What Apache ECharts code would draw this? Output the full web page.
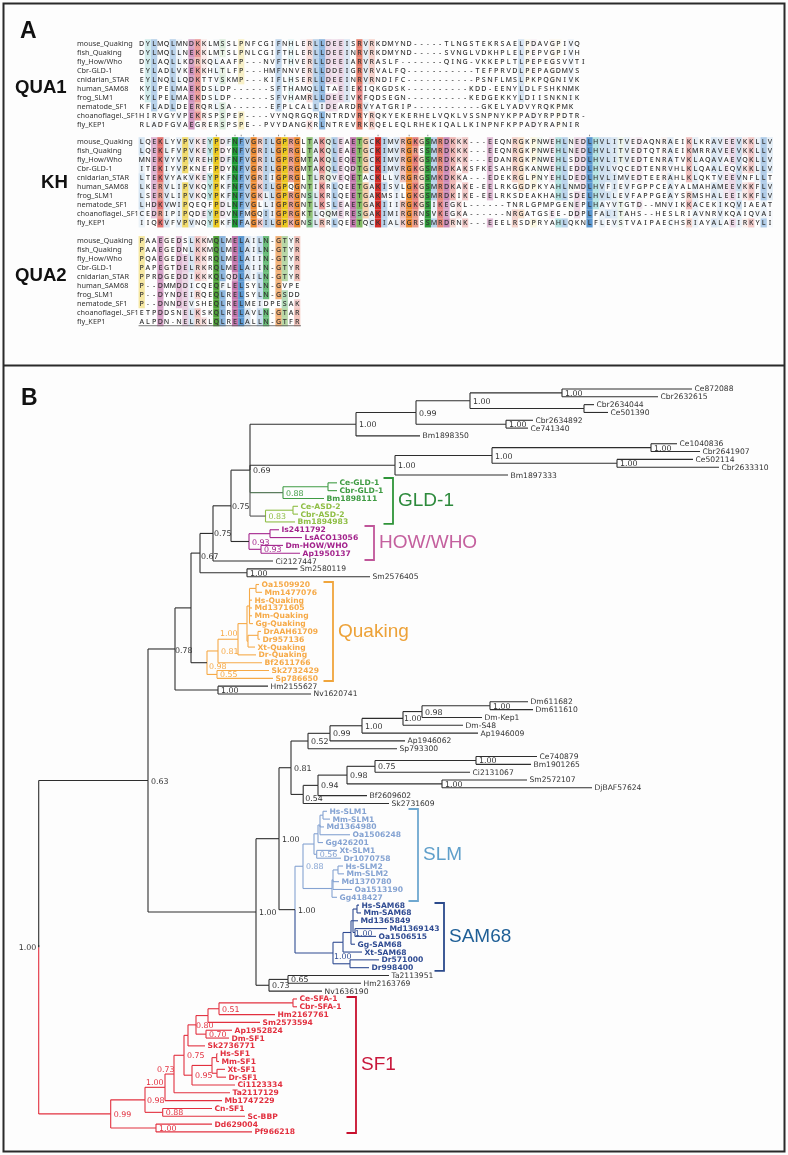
<!DOCTYPE html>
<html><head><meta charset="utf-8">
<style>html,body{margin:0;padding:0;background:#fdfdfd}#c{width:788px;height:1155px}</style>
<script src="https://cdn.jsdelivr.net/npm/echarts@6/dist/echarts.min.js"></script>
</head><body><div id="c"></div>
<script>
// ---------- Panel A: alignment ----------
const speciesNames = ["mouse_Quaking","fish_Quaking","fly_How/Who","Cbr-GLD-1","cnidarian_STAR","human_SAM68","frog_SLM1","nematode_SF1","choanoflagel._SF1","fly_KEP1"];
const qua1Seqs = [
"DYLMQLMNDKKLMSSLPNFCGIFNHLERLLDEEISRVRKDMYND-----TLNGSTEKRSAELPDAVGPIVQ",
"DYLMQLLNEKKLMTSLPNLCGIFTHLERLLDEEINRVRKDMYND-----SVNGLVDKHPLELPEPVGPIVH",
"DYLAQLLKDRKQLAAFP---NVFTHVERLLDEEIARVRASLF-------QING-VKKEPLTLPEPEGSVVTI",
"EYLADLVKEKKHLTLFP---HMFNNVERLLDDEIGRVRVALFQ-----------TEFPRVDLPEPAGDMVS",
"EYLNQLLQDKTTVSKMP---KIFLHSERLLDEEINRVRNDIFC-----------PSNFLMSLPKPQGNIVK",
"KYLPELMAEKDSLDP------SFTHAMQLLTAEIEKIQKGDSK----------KDD-EENYLDLFSHKNMK",
"KYLPELMAEKDSLDP------SFVHAMRLLDEEIVKFQDSEGN----------KEDGEKKYLDIISNKNIK",
"KFLADLDEERQRLSA------EFPLCALLIDEARDRVYATGRIP-----------GKELYADVYRQKPMK",
"HIRVGYVPEKRSPSPEP----VYNQRGQRLNTRDVRYRQKYEKERHELVQKLVSSNPNYKPPADYRPPDTR-",
"RLADFGVAEGRERSPSPE--PVYDANGKRLNTREVRKRQELEQLRHEKIQALLKINPNFKPPADYRAPNIR"];
const khSeqs = [
"LQEKLYVPVKEYPDFNFVGRILGPRGLTAKQLEAETGCKIMVRGKGSMRDKKK---EEQNRGKPNWEHLNEDLHVLITVEDAQNRAEIKLKRAVEEVKKLLV",
"LQEKLFVPVKEYPDYNFVGRILGPRGLTAKQLEAETGCKIMVRGRSSMRDKKK---EEQNRGKPNWEHLNEDLHVLITVEDTQTRAEIKMRRAVEEVKKLLV",
"MNEKVYVPVREHPDFNFVGRILGPRGMTAKQLEQETGCKIMVRGKGSMRDKKK---EDANRGKPNWEHLSDDLHVLITVEDTENRATVKLAQAVAEVQKLLV",
"ITEKIYVPKNEFPDYNFVGRILGPRGMTAKQLEQDTGCKIMVRGKGSMRDKAKSFKESAHRGKANWEHLEDDLHVLVQCEDTENRVHLKLQAALEQVKKLLV",
"LTEKVYAKVKEYPKFNFVGRIIGPRGLTLRQVEQETACKLLVRGRGSMKDKKA---EDEKRGLPNYEHLDEDLHVLIMVEDTEERAHLKLQKTVEEVNFLLT",
"LKERVLIPVKQYPKFNFVGKILGPQGNTIKRLQEETGAKISVLGKGSMRDKAKE-EELRKGGDPKYAHLNMDLHVFIEVFGPPCEAYALMAHAMEEVKKFLV",
"LSERVLIPVKQYPKFNFVGKLLGPRGNSLKRLQEETGAKMSILGKGSMRDKIKE-EELRKSDEAKHAHLSDELHVLLEVFAPPGEAYSRMSHALEEIKKFLV",
"LHDKVWIPQEQFPDLNFVGLLIGPRGNTLKSLEAETGAKIIIRGKGSIKEGKL------TNRLGPMPGENEPLHAYVTGTD--MNVIKKACEKIKQVIAEAT",
"CEDRIPIPQDEYPDVNFMGQIIGPRGKTLQQMERESGAKIMIRGRNSVKEGKA------NRGATGSEE-DDPLFALITAHS--HESLRIAVNRVKQAIQVAI",
"IIQKVFVPVNQYPKFNFAGKILGPKGNSLRRLQEETQCKIALKGRSSMRDRNK---EEELRSDPRYAHLQKNLFLEVSTVAIPAECHSRIAYALAEIRKYLI"];
const qua2Seqs = [
"PAAEGEDSLKKMQLMELAILN-GTYR",
"PAAEGEDNLKKMQLMELAILN-GTYR",
"PQAEGEDELKKRQLMELAIIN-GTYR",
"PAPEGTDELRKRQLMELAIIN-GTYR",
"PPRDGEDDIKKKQLQDLAILN-GTYR",
"P--DMMDDICQEQFLELSYLN-GVPE",
"P--DYNDEIRQEQLRELSYLN-GSDD",
"P--DNNDEVSHEQLRELMEIDPESAK",
"ETPDDSNELKSKQLRELAVLN-GTAR",
"ALPDN-NELRKLQLRELALLN-GTFR"];
const blockNames = ["QUA1","KH","QUA2"];

// ---------- Panel B: tree. internal = [depth, support, ...children]; tip = [name, depth] ----------
const treeGLD = [283,"0.88",[328,null,["Ce-GLD-1",337],["Cbr-GLD-1",337]],["Bm1898111",324]];
const treeASD = [265.5,"0.83",[293,null,["Ce-ASD-2",298],["Cbr-ASD-2",298]],["Bm1894983",295]];
const treeHOW = [249,"0.93",[270,null,["Is2411792",279],["LsACO13056",302]],[261,"0.93",["Dm-HOW/WHO",283],["Ap1950137",300]]];
const treeQuaking = [207,"0.98",
  [218,"0.81",
    [238,"1.00",
      [247,null,
        [249.5,null,[256,null,["Oa1509920",259],["Mm1477076",262]],["Hs-Quaking",252],["Md1371605",252],["Mm-Quaking",252],["Gg-Quaking",253]],
        [248,null,[258,null,["DrAAH61709",261],["Dr957136",260]],["Xt-Quaking",255]]],
      ["Dr-Quaking",256]],
    ["Bf2611766",262]],
  [217,"0.55",["Sk2732429",269],["Sp786650",273]]];
const treeSLM = [303,"0.88",
  [314,null,
    [318,null,[320,null,[323,null,["Hs-SLM1",327],["Mm-SLM1",330]],["Md1364980",324],["Oa1506248",350]],["Gg426201",323]],
    [316.7,"0.56",["Xt-SLM1",337],["Dr1070758",341]]],
  [332,null,[333,null,[338,null,["Hs-SLM2",343],["Mm-SLM2",344]],["Md1370780",339],["Oa1513190",352]],["Gg418427",337]]];
const treeSAM = [333,"1.00",
  [343,null,
    [351,null,[353,null,[357,null,["Hs-SAM68",359],["Mm-SAM68",361]],["Md1365849",358],[355,"1.00",["Md1369143",387],["Oa1506515",376]]],["Gg-SAM68",355]],
    ["Xt-SAM68",362]],
  [350,null,["Dr571000",379],["Dr998400",369]]];
const treeSF1 = [110.7,"0.99",
  [145,"0.98",
    [165,"1.00",
      [174,"0.73",
        [184,"0.75",
          [188,null,
            [196,"0.80",
              [208,null,[219,"0.51",[293,null,["Ce-SFA-1",297],["Cbr-SFA-1",297]],["Hm2167761",275]],["Sm2573594",260]],
              [206,"0.70",["Ap1952824",232],["Dm-SF1",229]]],
            ["Sk2736771",205]],
          [192,"0.95",
            [212,null,[216.7,null,["Hs-SF1",217.5],["Mm-SF1",219]],[217,null,["Xt-SF1",225],["Dr-SF1",226]]],
            ["Ci1123334",235]]],
        ["Ta2117129",230]],
      ["Mb1747229",222]],
    [162.7,"0.88",["Cn-SF1",212],["Sc-BBP",245]]],
  [156,"1.00",["Dd629004",212],["Pf966218",252]]];
const treeLongWorms = [356,"1.00",
  [416,"0.99",
    [470,"1.00",[562,"1.00",["Ce872088",692],["Cbr2632615",658]],[584,null,["Cbr2634044",594],["Ce501390",608]]],
    [506,"1.00",["Cbr2634892",533],["Ce741340",528]]],
  ["Bm1898350",420]];
const treeWorms2 = [395,"1.00",
  [492,"1.00",[651,"1.00",["Ce1040836",677],["Cbr2641907",700]],[617,"1.00",["Ce502114",693],["Cbr2633310",719]]],
  ["Bm1897333",508]];
const treeKep = [291,"0.81",
  [308,"0.52",
    [330,"0.99",
      [362,"1.00",
        [403,"1.00",[422,"0.98",[490,"1.00",["Dm611682",528],["Dm611610",533]],["Dm-Kep1",482]],["Dm-S48",463]],
        ["Ap1946009",478]],
      ["Ap1946062",405]],
    ["Sp793300",397]],
  [303.2,"0.54",
    [318,"0.94",
      [347,"0.98",
        [375,"0.75",[476,"1.00",["Ce740879",537],["Bm1901265",531]],["Ci2131067",470]],
        [442,"1.00",["Sm2572107",527],["DjBAF57624",592]]],
      ["Bf2609602",367]],
    ["Sk2731609",389]]];
const treeOutgroups = [269,"0.73",[288,"0.65",["Ta2113951",389],["Hm2163769",361]],["Nv1636190",322]];

const cladeNames   = ["GLD-1","HOW/WHO","Quaking","SLM","SAM68","SF1"];
const bracketSpine = [393,374,333,418,444,356];
const bracketFirst = [11.38,17.52,24.68,53.71,65.73,77.75];
const bracketLast  = [17.26,21.87,37.34,65.47,74.42,95.14];
const bracketColor = ["#2f9439","#c0569a","#f0a53c","#6fa8d0","#2b4a8c","#c8102e"];
const cladeTextColor = ["#2d8a3c","#c4609e","#eda238","#5f9fca","#1f5f96","#c8173a"];

// ---------- styles ----------
const INK="#333333", LEAF_FONT='7.6px "DejaVu Sans"', LEAF_BOLD='bold 7.6px "DejaVu Sans"';
const C={gld:"#3f9b43",asd:"#8fbe45",how:"#a3238c",qua:"#f6aa48",slm:"#85a3d2",sam:"#2f4b92",sf:"#e2303f",blk:"#2e2e2e"};
const supportNudge={175:[0,2],238:[-18,-5],207:[2,4],200:[1,4],231:[1,1],213:[1,1],303.2:[2,5],333:[1,4],174:[-17,-4],165:[-19,-4],196:[0,1],355:[0,1],38.7:[-20,1],145:[2,1],403:[1,1]};

const P=(n,c,stem)=>({paint:c,stem:stem,n});
const treeRoot=[38.7,"1.00",
 [148,"0.63",
  [175,"0.78",
   [191,null,
    [200,"0.67",
     [213,"0.75",
      [231,"0.75",
       [250,"0.69",treeLongWorms,treeWorms2,P(treeGLD,C.gld,"#5b7d5e"),P(treeASD,C.asd,"#555555")],
       P(treeHOW,C.how,C.blk)],
      ["Ci2127447",273]],
     [247,"1.00",["Sm2580119",297.5],["Sm2576405",370]]],
    P(treeQuaking,C.qua,C.blk)],
   [218,"1.00",["Hm2155627",268],["Nv1620741",311]]],
  [256,"1.00",
   [279,"1.00",treeKep,
    [295,"1.00",P(treeSLM,C.slm,C.slm),P(treeSAM,C.sam,C.sam)]],
   treeOutgroups]],
 P(treeSF1,C.sf,C.sf)];

// layout
const segs=[],tips=[],sups=[];let nextRow=0;
function walk(node,col,stem,painted){
  if(node.paint) return walk(node.n,node.paint,node.stem,true);
  if(typeof node[0]==="string"){
    const r=nextRow++;
    tips.push({name:node[0],x:node[1],row:r,col:painted?col:"#333333",font:painted?LEAF_BOLD:LEAF_FONT});
    return {x:node[1],y:r,stem:stem||col};
  }
  const kids=node.slice(2).map(ch=>walk(ch,col,null,painted));
  const y=(kids[0].y+kids[kids.length-1].y)/2;
  kids.forEach(k=>{
    segs.push({a:[node[0],k.y],b:[k.x,k.y],c:k.stem});
    segs.push({a:[node[0],y],b:[node[0],k.y],c:k.stem});
  });
  if(node[1]) sups.push({t:node[1],x:node[0],y,col:painted?col:"#333333"});
  return {x:node[0],y,stem:stem||col};
}
walk(treeRoot,C.blk,C.blk,false);
const ROOT_BREAK=(945-389)/7.82;
const rootSeg=segs.find(s=>s.a[0]===38.7&&s.b[0]===38.7&&s.b[1]>s.a[1]&&s.c===C.sf);
if(rootSeg){segs.push({a:[38.7,rootSeg.a[1]],b:[38.7,ROOT_BREAK],c:C.blk});}

// alignment cells
const GROUP={A:"h",I:"h",L:"h",M:"h",F:"h",W:"h",V:"h",C:"h",K:"k",R:"k",D:"e",E:"e",N:"p",Q:"p",S:"t",T:"t",G:"g",P:"y",H:"c",Y:"c"};
const BASE={A:"#6fa3d6",I:"#6fa3d6",L:"#5b97d0",M:"#6fa3d6",F:"#6fa3d6",W:"#6fa3d6",V:"#6fa3d6",C:"#6fa3d6",K:"#d62c28",R:"#dd5238",D:"#b8609f",E:"#b8609f",N:"#1f9a35",Q:"#4c9f35",S:"#2f9a3a",T:"#69ac45",G:"#ec8a32",P:"#eac81e",H:"#4fbfc0",Y:"#4fbdb8"};
function rgba(h,a){const v=parseInt(h.slice(1),16);return `rgba(${v>>16},${(v>>8)&255},${v&255},${a.toFixed(3)})`;}
const cells=[],ticks=[],blockRows=[0,10.85,21.8];
[qua1Seqs,khSeqs,qua2Seqs].forEach((seqs,b)=>{
  seqs.forEach((s,i)=>{
    [...s].forEach((ch,j)=>{
      let id=0,cl=0;
      seqs.forEach(o=>{const d=o[j];if(d===ch)id++;if(d&&GROUP[d]===GROUP[ch])cl++;});
      id/=seqs.length;cl/=seqs.length;
      const w=GROUP[ch]==="h"?0.12:0.55;
      let a=GROUP[ch]?w*Math.pow(cl,4)+(1-w)*Math.pow(id,4):0;
      cells.push({ch,col:j,row:blockRows[b]+i,fill:a>0.04?rgba(BASE[ch],Math.min(1,a)):null});
      if(b===1&&i===0&&id===1) ticks.push(j);
    });
  });
});
const nameRows=[];blockRows.forEach(b=>speciesNames.forEach((n,i)=>nameRows.push({n,row:b+i})));

const W=788,H=1155,COL0=141.7,COLSTEP=6.22,ROW0=43.7,ROWSTEP=9.03,TIP0=389,TIPSTEP=7.82;
const pageTexts=[
 {t:"A",x:20,y:31.5,font:'bold 23px "Liberation Sans"'},
 {t:"B",x:21,y:398.5,font:'bold 23px "Liberation Sans"'},
 {t:blockNames[0],x:15,y:87.5,font:'bold 18.6px "Liberation Sans"'},
 {t:blockNames[1],x:41,y:182.5,font:'bold 18.6px "Liberation Sans"'},
 {t:blockNames[2],x:15,y:275.5,font:'bold 18.6px "Liberation Sans"'}];

const base={type:"custom",silent:true,clip:false,animation:false};
const hidden={show:false};
const opt={
 animation:false,backgroundColor:"#fdfdfd",
 grid:[0,1,2].map(()=>({left:0,top:0,width:W,height:H})),
 xAxis:[
  {type:"value",gridIndex:0,min:0,max:W,...hidden},
  {type:"value",gridIndex:1,min:-COL0/COLSTEP,max:(W-COL0)/COLSTEP,...hidden},
  {type:"value",gridIndex:2,min:0,max:W,...hidden}],
 yAxis:[
  {type:"value",gridIndex:0,min:0,max:H,inverse:true,...hidden},
  {type:"value",gridIndex:1,min:-ROW0/ROWSTEP,max:(H-ROW0)/ROWSTEP,inverse:true,...hidden},
  {type:"value",gridIndex:2,min:-TIP0/TIPSTEP,max:(H-TIP0)/TIPSTEP,inverse:true,...hidden}],
 series:[
  {...base,xAxisIndex:0,yAxisIndex:0,data:[[0,0]],renderItem(p,api){
    const a=api.coord([3.5,3.5]),b=api.coord([784.5,1151.5]),l=api.coord([3.5,365.5]),r=api.coord([784.5,365.5]);
    return {type:"group",children:[
      {type:"rect",shape:{x:a[0],y:a[1],width:b[0]-a[0],height:b[1]-a[1]},style:{fill:null,stroke:"#2a2a2a",lineWidth:2}},
      {type:"line",shape:{x1:l[0],y1:l[1],x2:r[0],y2:r[1]},style:{stroke:"#2a2a2a",lineWidth:2}}]};
  }},
  {...base,xAxisIndex:0,yAxisIndex:0,data:pageTexts.map((d,i)=>[i,0]),renderItem(p,api){
    const d=pageTexts[p.dataIndex],c=api.coord([d.x,d.y]);
    return {type:"text",style:{text:d.t,x:c[0],y:c[1],font:d.font,fill:"#111",align:"left",verticalAlign:"middle"}};
  }},
  {...base,xAxisIndex:1,yAxisIndex:1,data:cells.map((d,i)=>[i,0]),renderItem(p,api){
    const d=cells[p.dataIndex];if(!d.fill)return null;
    const a=api.coord([d.col-0.5,d.row-0.5]),b=api.coord([d.col+0.5,d.row+0.5]);
    return {type:"rect",shape:{x:a[0],y:a[1],width:b[0]-a[0],height:b[1]-a[1]},style:{fill:d.fill}};
  }},
  {...base,xAxisIndex:1,yAxisIndex:1,data:cells.map((d,i)=>[i,0]),renderItem(p,api){
    const d=cells[p.dataIndex],c=api.coord([d.col,d.row]);
    return {type:"text",style:{text:d.ch,x:c[0],y:c[1],font:'500 7.1px "Noto Sans"',fill:INK,align:"center",verticalAlign:"middle"}};
  }},
  {...base,xAxisIndex:1,yAxisIndex:1,data:nameRows.map((d,i)=>[i,0]),renderItem(p,api){
    const d=nameRows[p.dataIndex],c=api.coord([-10.4,d.row]);
    return {type:"text",style:{text:d.n,x:c[0],y:c[1],font:'7.3px "Noto Sans"',fill:INK,align:"left",verticalAlign:"middle"}};
  }},
  {...base,xAxisIndex:1,yAxisIndex:1,data:ticks.map((d,i)=>[i,0]),renderItem(p,api){
    const c=api.coord([ticks[p.dataIndex],blockRows[1]-0.68]);
    return {type:"rect",shape:{x:c[0]-0.5,y:c[1]-0.8,width:1,height:1.6},style:{fill:"#888"}};
  }},
  {...base,xAxisIndex:1,yAxisIndex:1,data:[[0,0]],renderItem(p,api){
    const a=api.coord([-0.5,blockRows[2]+9.43]),b=api.coord([25.6,blockRows[2]+9.43]);
    return {type:"line",shape:{x1:a[0],y1:a[1],x2:b[0],y2:b[1]},style:{stroke:"#555",lineWidth:0.8}};
  }},
  {...base,xAxisIndex:2,yAxisIndex:2,data:segs.map((d,i)=>[i,0]),renderItem(p,api){
    const d=segs[p.dataIndex],a=api.coord(d.a),b=api.coord(d.b);
    return {type:"line",shape:{x1:a[0],y1:a[1],x2:b[0],y2:b[1]},style:{stroke:d.c,lineWidth:1.1}};
  }},
  {...base,xAxisIndex:2,yAxisIndex:2,data:tips.map((d,i)=>[i,0]),renderItem(p,api){
    const d=tips[p.dataIndex],c=api.coord([d.x,d.row]);
    return {type:"text",style:{text:d.name,x:c[0]+2.5,y:c[1]+0.5,font:d.font,fill:d.col,align:"left",verticalAlign:"middle"}};
  }},
  {...base,xAxisIndex:2,yAxisIndex:2,data:sups.map((d,i)=>[i,0]),renderItem(p,api){
    const d=sups[p.dataIndex],c=api.coord([d.x,d.y]),n=supportNudge[d.x]||[3,1];
    return {type:"text",style:{text:d.t,x:c[0]+n[0],y:c[1]+n[1],font:'7.9px "DejaVu Sans"',fill:d.col,align:"left",verticalAlign:"middle"}};
  }},
  {...base,xAxisIndex:2,yAxisIndex:2,data:cladeNames.map((d,i)=>[i,0]),renderItem(p,api){
    const i=p.dataIndex,t=api.coord([bracketSpine[i],bracketFirst[i]]),e=api.coord([bracketSpine[i],bracketLast[i]]);
    const m=(t[1]+e[1])/2;
    return {type:"group",children:[
      {type:"polyline",shape:{points:[[t[0]-9.5,t[1]],[t[0],t[1]],[t[0],e[1]],[t[0]-9.5,e[1]]]},style:{fill:null,stroke:bracketColor[i],lineWidth:1.8}},
      {type:"text",style:{text:cladeNames[i],x:t[0]+5,y:m,font:'19px "Liberation Sans"',fill:cladeTextColor[i],align:"left",verticalAlign:"middle"}}]};
  }}
 ]
};
const chart=echarts.init(document.getElementById("c"),null,{renderer:"canvas",width:W,height:H});
chart.setOption(opt);
</script></body></html>
